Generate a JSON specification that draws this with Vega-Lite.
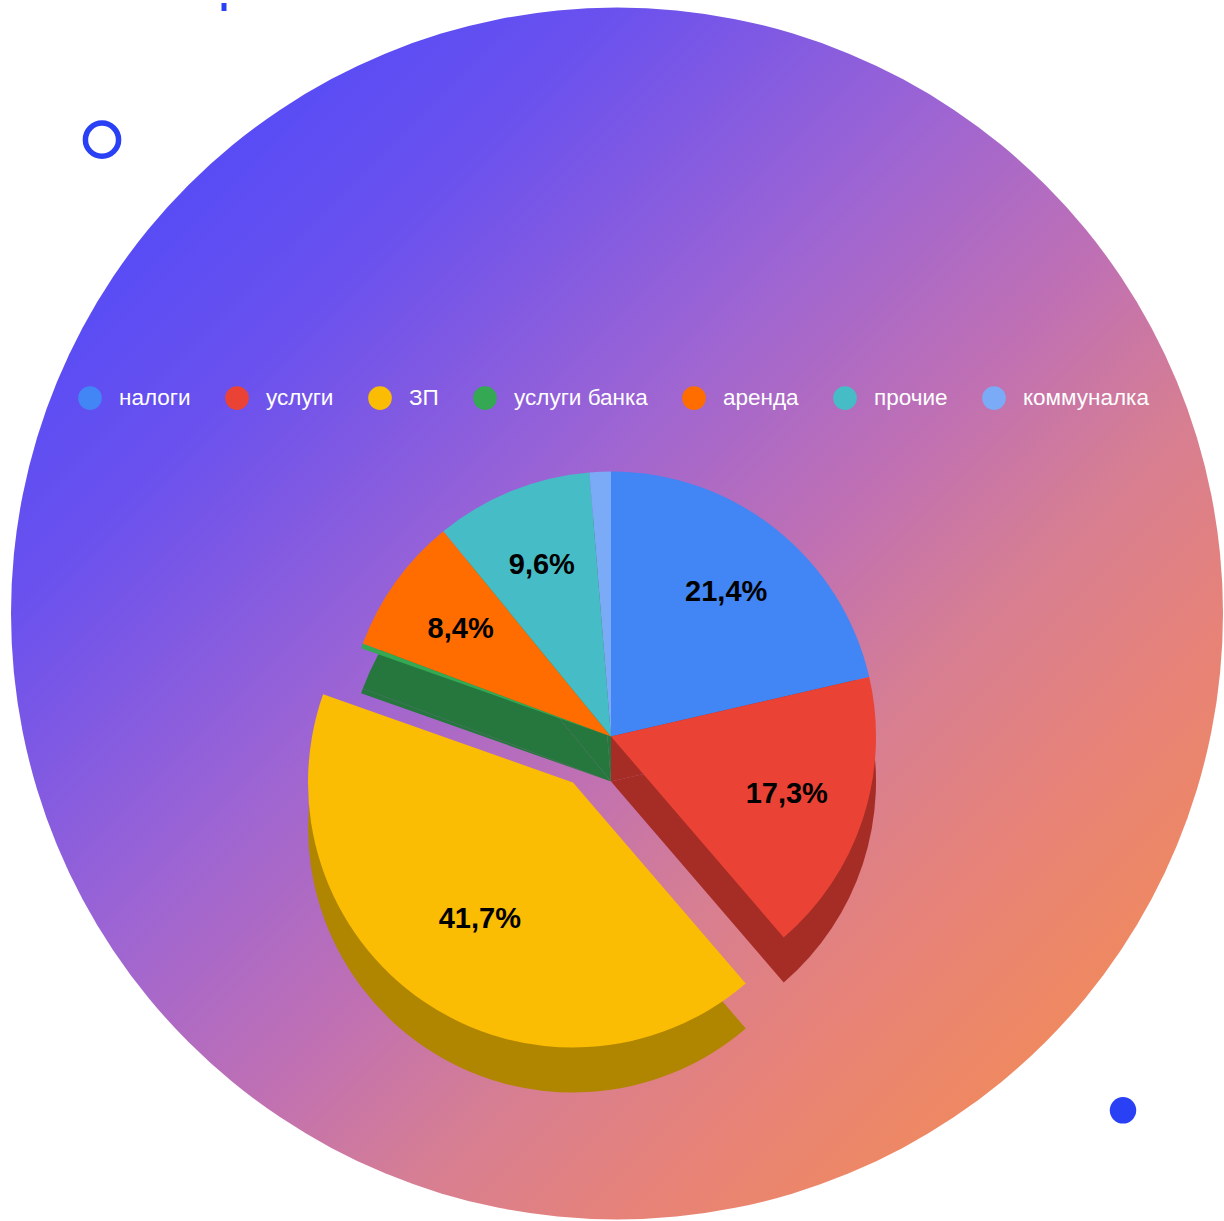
{
  "$schema": "https://vega.github.io/schema/vega-lite/v6.json",
  "width": 1224,
  "height": 1221,
  "autosize": {"type": "fit", "contains": "padding"},
  "padding": 0,
  "background": "#ffffff",
  "config": {
    "view": {"stroke": null},
    "locale": {"number": {"decimal": ",", "thousands": " ", "grouping": [3], "currency": ["", ""]}}
  },
  "datasets": {
    "slices": [
      {"cat": "налоги", "v": 0.214},
      {"cat": "услуги", "v": 0.173},
      {"cat": "ЗП", "v": 0.417},
      {"cat": "услуги банка", "v": 0.003},
      {"cat": "аренда", "v": 0.084},
      {"cat": "прочие", "v": 0.096},
      {"cat": "коммуналка", "v": 0.013}
    ],
    "bg": [{"a": 0, "b": 1}],
    "ring": [{"x": 102, "y": 137}],
    "dot": [{"x": 1123, "y": 1110}],
    "tick": [{"x": 224, "y": 0, "y2": 8}]
  },
  "layer": [
    {
      "data": {"name": "bg"},
      "mark": {
        "type": "arc",
        "radius": 606,
        "xOffset": 5,
        "yOffset": 1.5,
        "fill": {
          "gradient": "linear",
          "x1": 0, "y1": 0, "x2": 1, "y2": 1,
          "stops": [
            {"offset": 0, "color": "#3f45ff"},
            {"offset": 0.25, "color": "#6a51ee"},
            {"offset": 0.42, "color": "#9c64d4"},
            {"offset": 0.55, "color": "#bf70b4"},
            {"offset": 0.65, "color": "#d67e93"},
            {"offset": 0.75, "color": "#e68279"},
            {"offset": 0.87, "color": "#f08a5e"},
            {"offset": 1, "color": "#f99446"}
          ]
        }
      },
      "encoding": {
        "theta": {"field": "a", "type": "quantitative", "scale": {"domain": [0, 1]}},
        "theta2": {"field": "b"}
      }
    },
    {
      "data": {"name": "ring"},
      "mark": {"type": "point", "shape": "circle", "filled": false, "stroke": "#2a40f5", "strokeWidth": 5.5, "size": 1100, "opacity": 1},
      "encoding": {
        "x": {"field": "x", "type": "quantitative", "scale": {"domain": [0, 1224], "nice": false, "zero": false}, "axis": null},
        "y": {"field": "y", "type": "quantitative", "scale": {"domain": [0, 1221], "nice": false, "zero": false, "reverse": true}, "axis": null}
      }
    },
    {
      "data": {"name": "dot"},
      "mark": {"type": "point", "shape": "circle", "filled": true, "fill": "#2a40f5", "size": 700, "opacity": 1},
      "encoding": {
        "x": {"field": "x", "type": "quantitative"},
        "y": {"field": "y", "type": "quantitative"}
      }
    },
    {
      "data": {"name": "tick"},
      "mark": {"type": "rule", "stroke": "#2a40f5", "strokeWidth": 5, "strokeCap": "butt"},
      "encoding": {
        "x": {"field": "x", "type": "quantitative"},
        "y": {"field": "y", "type": "quantitative"},
        "y2": {"field": "y2"}
      }
    },
    {
      "data": {"name": "slices"},
      "transform": [
        {"stack": "v", "groupby": [], "as": ["t0", "t1"]},
        {"filter": "datum.cat !== 'ЗП'"}
      ],
      "mark": {"type": "arc", "radius": 265, "xOffset": -1, "yOffset": 169.5},
      "encoding": {
        "theta": {"field": "t0", "type": "quantitative", "scale": {"domain": [0, 1]}},
        "theta2": {"field": "t1"},
        "fill": {
          "condition": {"test": "datum.cat === 'налоги' || datum.cat === 'услуги'", "value": "#a52d25"},
          "value": "#25773d"
        }
      }
    },
    {
      "data": {"name": "slices"},
      "transform": [
        {"stack": "v", "groupby": [], "as": ["t0", "t1"]},
        {"filter": "datum.cat !== 'ЗП'"}
      ],
      "mark": {"type": "arc", "radius": 265, "xOffset": -1, "yOffset": 124.5},
      "encoding": {
        "theta": {"field": "t0", "type": "quantitative", "scale": {"domain": [0, 1]}},
        "theta2": {"field": "t1"},
        "color": {
          "field": "cat", "type": "nominal",
          "scale": {
            "domain": ["налоги", "услуги", "ЗП", "услуги банка", "аренда", "прочие", "коммуналка"],
            "range": ["#4285f4", "#ea4335", "#fbbc04", "#34a853", "#ff6d01", "#46bdc6", "#7baaf7"]
          },
          "legend": {
            "orient": "none",
            "legendX": 78,
            "legendY": 383,
            "direction": "horizontal",
            "columns": 7,
            "title": null,
            "padding": 0,
            "symbolType": "circle",
            "symbolSize": 560,
            "symbolStrokeWidth": 0,
            "symbolOpacity": 1,
            "labelFont": "Liberation Sans",
            "labelFontSize": 22.5,
            "labelColor": "#ffffff",
            "labelOffset": 17,
            "columnPadding": 34,
            "labelLimit": 300
          }
        }
      }
    },
    {
      "data": {"name": "slices"},
      "transform": [
        {"stack": "v", "groupby": [], "as": ["t0", "t1"]},
        {"filter": "datum.cat === 'ЗП'"}
      ],
      "mark": {"type": "arc", "radius": 265, "xOffset": -39, "yOffset": 215.5, "color": "#b08500"},
      "encoding": {
        "theta": {"field": "t0", "type": "quantitative", "scale": {"domain": [0, 1]}},
        "theta2": {"field": "t1"}
      }
    },
    {
      "data": {"name": "slices"},
      "transform": [
        {"stack": "v", "groupby": [], "as": ["t0", "t1"]},
        {"filter": "datum.cat === 'ЗП'"}
      ],
      "mark": {"type": "arc", "radius": 265, "xOffset": -39, "yOffset": 170.5},
      "encoding": {
        "theta": {"field": "t0", "type": "quantitative", "scale": {"domain": [0, 1]}},
        "theta2": {"field": "t1"},
        "color": {"field": "cat", "type": "nominal"}
      }
    },
    {
      "data": {"name": "slices"},
      "transform": [{"window": [{"op": "row_number", "as": "i"}]}],
      "mark": {"type": "text", "radius": 185, "xOffset": -1, "yOffset": 124.5, "font": "Liberation Sans", "fontSize": 29, "fontWeight": "bold", "color": "#000000"},
      "encoding": {
        "theta": {"field": "v", "type": "quantitative", "stack": true, "scale": {"domain": [0, 1]}},
        "order": {"field": "i", "type": "quantitative"},
        "detail": {"field": "cat", "type": "nominal"},
        "text": {
          "condition": {"test": "datum.v < 0.05 || datum.cat === 'ЗП'", "value": ""},
          "field": "v", "type": "quantitative", "format": ".1%"
        }
      }
    },
    {
      "data": {"name": "slices"},
      "transform": [{"window": [{"op": "row_number", "as": "i"}]}],
      "mark": {"type": "text", "radius": 165, "xOffset": -39, "yOffset": 170.5, "font": "Liberation Sans", "fontSize": 29, "fontWeight": "bold", "color": "#000000"},
      "encoding": {
        "theta": {"field": "v", "type": "quantitative", "stack": true, "scale": {"domain": [0, 1]}},
        "order": {"field": "i", "type": "quantitative"},
        "detail": {"field": "cat", "type": "nominal"},
        "text": {
          "condition": {"test": "datum.cat !== 'ЗП'", "value": ""},
          "field": "v", "type": "quantitative", "format": ".1%"
        }
      }
    }
  ]
}
